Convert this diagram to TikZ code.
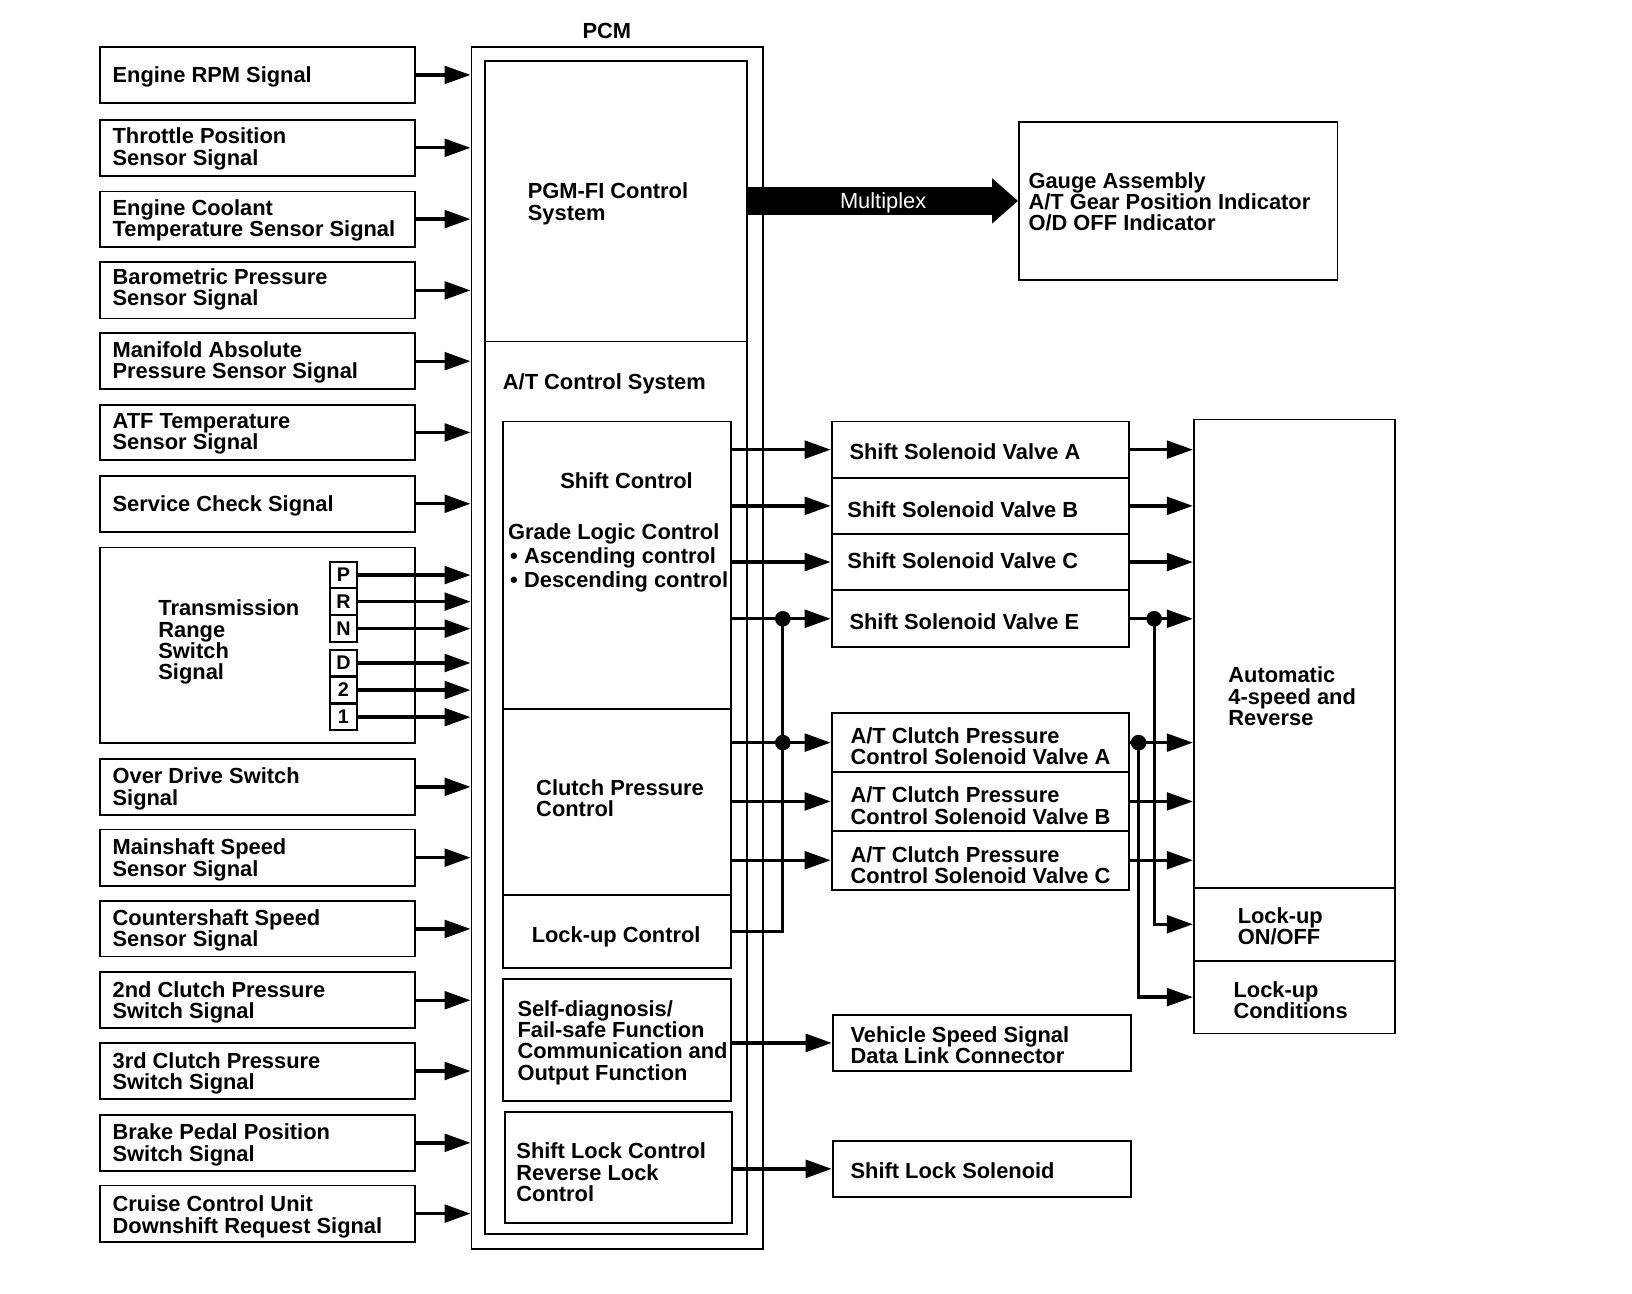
\documentclass[tikz,border=0pt]{standalone}
\usepackage{fontspec}
\setmainfont{Liberation Sans}
\usetikzlibrary{arrows.meta,calc}
\tikzset{
  frame/.style={draw, line width=1.8pt, rectangle, inner sep=0pt},
  txt/.style={font=\fontsize{21}{20.5}\selectfont\bfseries, inner sep=0pt, align=left, anchor=west, yshift=-2pt},
  ctxt/.style={font=\fontsize{21}{20.5}\selectfont\bfseries, inner sep=0pt, align=center, yshift=-2pt},
  letter/.style={frame, line width=1.6pt, font=\fontsize{19}{19}\selectfont\bfseries, minimum width=26pt, minimum height=25pt},
  arr/.style={line width=3.2pt, -{Triangle[length=25pt,width=17pt]}},
  wire/.style={line width=3.2pt},
  mplx/.style={line width=27pt, -{Triangle[length=25pt,width=42pt]}},
  mtext/.style={text=white, font=\fontsize{21}{21}\selectfont, inner sep=0pt, yshift=-2pt},
}
\newcommand\cbox[6][]{\node[frame,#1,minimum width={#5-#3},minimum height={#6-#4}] (#2) at ({(#3+#5)/2},{(#4+#6)/2}) {};}
\begin{document}
\begin{tikzpicture}[x=1pt,y=-1pt]
\useasboundingbox (0,0) rectangle (1568,1243);
% ---------- input boxes ----------
\cbox{in1}{96}{45}{399}{99}
\node[txt] (in1t) at (108,72) {Engine RPM Signal};
\cbox{in2}{96}{115}{399}{169}
\node[txt] (in2t) at (108,141) {Throttle Position\\Sensor Signal};
\cbox{in3}{96}{184}{399}{237}
\node[txt] (in3t) at (108,210) {Engine Coolant\\Temperature Sensor Signal};
\cbox{in4}{96}{252}{399}{306}
\node[txt] (in4t) at (108,276) {Barometric Pressure\\Sensor Signal};
\cbox{in5}{96}{320}{399}{374}
\node[txt] (in5t) at (108,346) {Manifold Absolute\\Pressure Sensor Signal};
\cbox{in6}{96}{389}{399}{442}
\node[txt] (in6t) at (108,415) {ATF Temperature\\Sensor Signal};
\cbox{in7}{96}{457}{399}{511}
\node[txt] (in7t) at (108,484) {Service Check Signal};
\cbox{trs}{96}{526}{399}{714}
\node[txt] (trst) at (152,615) {Transmission\\Range\\Switch\\Signal};
\node[letter] (lP) at (330,552.5) {P};
\node[letter] (lR) at (330,578) {R};
\node[letter] (lN) at (330,604) {N};
\node[letter] (lD) at (330,637) {D};
\node[letter] (l2) at (330,663) {2};
\node[letter] (l1) at (330,689) {1};
\cbox{in9}{96}{729}{399}{783}
\node[txt] (in9t) at (108,756) {Over Drive Switch\\Signal};
\cbox{in10}{96}{797}{399}{851}
\node[txt] (in10t) at (108,824) {Mainshaft Speed\\Sensor Signal};
\cbox{in11}{96}{866}{399}{919}
\node[txt] (in11t) at (108,892) {Countershaft Speed\\Sensor Signal};
\cbox{in12}{96}{934}{399}{988}
\node[txt] (in12t) at (108,961) {2nd Clutch Pressure\\Switch Signal};
\cbox{in13}{96}{1002}{399}{1056}
\node[txt] (in13t) at (108,1029) {3rd Clutch Pressure\\Switch Signal};
\cbox{in14}{96}{1071}{399}{1125}
\node[txt] (in14t) at (108,1098) {Brake Pedal Position\\Switch Signal};
\cbox{in15}{96}{1139}{399}{1193}
\node[txt] (in15t) at (108,1167) {Cruise Control Unit\\Downshift Request Signal};
% ---------- PCM ----------
\node[ctxt] (pcmlbl) at (583,28) {PCM};
\cbox{pcm}{453}{45}{733}{1200}
\cbox{pcmin}{466}{59}{718}{1186}
\coordinate (div) at (0,328);
\draw[line width=1.4pt] (pcmin.west |- div) -- (pcmin.east |- div);
\node[txt] (pgmt) at (507,194) {PGM-FI Control\\System};
\node[txt] (atct) at (483,367) {A/T Control System};
\cbox{shiftctl}{483}{405}{702}{681}
\cbox{clutchctl}{483}{681}{702}{860}
\cbox{lockctl}{483}{860}{702}{930}
\node[ctxt] (sct) at (602,460) {Shift Control};
\node[txt, font=\fontsize{21}{23}\selectfont\bfseries] (glt) at (488,534) {Grade Logic Control\\\hspace*{2pt}\textbullet\hspace*{6pt}Ascending control\\\hspace*{2pt}\textbullet\hspace*{6pt}Descending control};
\node[txt] (clt) at (515,765) {Clutch Pressure\\Control};
\node[ctxt] (lockt) at (592,898) {Lock-up Control};
\cbox{diag}{483}{941}{702}{1058}
\node[txt] (diagt) at (497,999.5) {Self-diagnosis/\\Fail-safe Function\\Communication and\\Output Function};
\cbox{slock}{485}{1068}{703}{1175}
\node[txt] (slockt) at (496,1124.5) {Shift Lock Control\\Reverse Lock\\Control};
% ---------- gauge ----------
\cbox{gauge}{979}{117}{1285}{269}
\node[txt] (gauget) at (988,192) {Gauge Assembly\\A/T Gear Position Indicator\\O/D OFF Indicator};
% ---------- valves ----------
\cbox{ssA}{799}{405}{1085}{459}
\node[txt] (ssAt) at (816,432) {Shift Solenoid Valve A};
\cbox{ssB}{799}{459}{1085}{513}
\node[txt] (ssBt) at (814,488) {Shift Solenoid Valve B};
\cbox{ssC}{799}{513}{1085}{567}
\node[txt] (ssCt) at (814,537) {Shift Solenoid Valve C};
\cbox{ssE}{799}{567}{1085}{622}
\node[txt] (ssEt) at (816,595) {Shift Solenoid Valve E};
\cbox{cpA}{799}{685}{1085}{742}
\node[txt] (cpAt) at (817,715) {A/T Clutch Pressure\\Control Solenoid Valve A};
\cbox{cpB}{799}{742}{1085}{798}
\node[txt] (cpBt) at (817,772) {A/T Clutch Pressure\\Control Solenoid Valve B};
\cbox{cpC}{799}{798}{1085}{855}
\node[txt] (cpCt) at (817,829) {A/T Clutch Pressure\\Control Solenoid Valve C};
\cbox{vss}{800}{975}{1087}{1029}
\node[txt] (vsst) at (817,1002) {Vehicle Speed Signal\\Data Link Connector};
\cbox{sls}{800}{1096}{1087}{1150}
\node[txt] (slst) at (817,1123) {Shift Lock Solenoid};
% ---------- transmission ----------
\cbox{auto}{1147}{403}{1340}{853}
\node[txt] (autot) at (1180,667) {Automatic\\4-speed and\\Reverse};
\cbox{luon}{1147}{853}{1340}{923}
\node[txt] (luont) at (1189,888) {Lock-up\\ON/OFF};
\cbox{lucond}{1147}{923}{1340}{993}
\node[txt] (lucondt) at (1185,959) {Lock-up\\Conditions};
% ---------- input arrows ----------
\foreach \n in {in1,in2,in3,in4,in5,in6,in7,lP,lR,lN,lD,l2,l1,in9,in10,in11,in12,in13,in14,in15}
  \draw[arr] (\n.east) -- (\n.east -| pcm.west);
% ---------- multiplex ----------
\draw[mplx] (pcmin.east |- gauge.west) -- node[mtext] (mplxt) {Multiplex} (gauge.west);
% ---------- PCM outputs ----------
\draw[arr] (shiftctl.east |- ssA.west) -- (ssA.west);
\draw[arr] (shiftctl.east |- ssB.west) -- (ssB.west);
\draw[arr] (shiftctl.east |- ssC.west) -- (ssC.west);
\draw[arr] (shiftctl.east |- ssE.west) -- (ssE.west);
\draw[arr] (clutchctl.east |- cpA.west) -- (cpA.west);
\draw[arr] (clutchctl.east |- cpB.west) -- (cpB.west);
\draw[arr] (clutchctl.east |- cpC.west) -- (cpC.west);
\path (ssE.west) ++(-46,0) coordinate (j1);
\path (cpA.west) ++(-46,0) coordinate (j2);
\draw[wire] (lockctl.east) -| (j1);
\fill (j1) circle[radius=7.5pt];
\fill (j2) circle[radius=7.5pt];
\draw[arr] (diag.east |- vss.west) -- (vss.west);
\draw[arr] (slock.east |- sls.west) -- (sls.west);
% ---------- valve outputs ----------
\foreach \n in {ssA,ssB,ssC,ssE,cpA,cpB,cpC}
  \draw[arr] (\n.east) -- (\n.east -| auto.west);
\path (ssE.east) ++(23,0) coordinate (j3);
\path (cpA.east) ++(8,0) coordinate (j4);
\draw[arr] (j3) |- (luon.west);
\draw[arr] (j4) |- (lucond.west);
\fill (j3) circle[radius=7.5pt];
\fill (j4) circle[radius=7.5pt];
\end{tikzpicture}
\end{document}
